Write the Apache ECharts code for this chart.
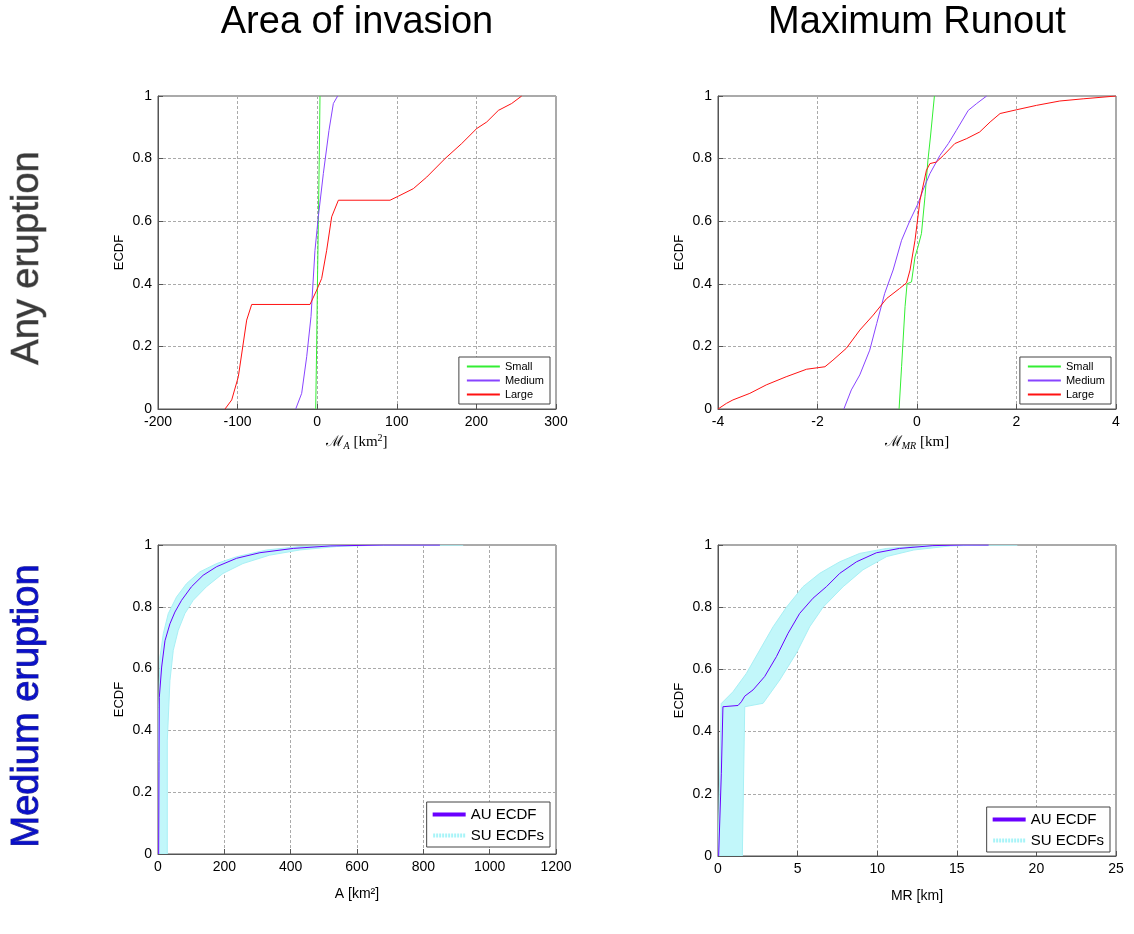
<!DOCTYPE html>
<html><head><meta charset="utf-8">
<script src="https://cdn.jsdelivr.net/npm/echarts@6/dist/echarts.min.js"></script>
<style>html,body{margin:0;padding:0;background:#fff}#c{width:1134px;height:934px}</style>
</head><body><div id="c"></div>
<script>
// ---------- DATA ----------
const colTitles = ['Area of invasion', 'Maximum Runout'];
const rowTitles = ['Any eruption', 'Medium eruption'];
const yTicks = [0, 0.2, 0.4, 0.6, 0.8, 1];
const xTicksArea = [-200, -100, 0, 100, 200, 300];
const xTicksRun = [-4, -2, 0, 2, 4];
const xTicksA = [0, 200, 400, 600, 800, 1000, 1200];
const xTicksMR = [0, 5, 10, 15, 20, 25];

// Top-left: M_A [km^2] ECDFs
const areaSmall = [[-1.9,0],[-0.7,0.2],[0.2,0.38],[1.4,0.59],[2.6,0.805],[3.5,1]];
const areaMedium = [[-27,0],[-19.5,0.05],[-13.2,0.167],[-7.8,0.295],[-2.8,0.507],[1.4,0.614],[7.7,0.752],[14.8,0.89],[20.3,0.976],[25.7,1]];
const areaLarge = [[-115.8,0],[-107.4,0.029],[-99.1,0.103],[-88.6,0.284],[-82.3,0.334],[-9,0.334],[-0.6,0.38],[5.6,0.417],[11.9,0.507],[18.2,0.614],[26.6,0.667],[91.5,0.667],[102,0.68],[120.8,0.704],[137.6,0.741],[160.6,0.8],[181.5,0.848],[200.4,0.896],[213,0.917],[227.6,0.954],[244.3,0.976],[256.9,1]];

// Top-right: M_MR [km] ECDFs
const runSmall = [[-0.36,0],[-0.31,0.135],[-0.24,0.327],[-0.2,0.4],[-0.11,0.406],[-0.04,0.486],[0.02,0.518],[0.09,0.561],[0.16,0.678],[0.22,0.795],[0.27,0.869],[0.35,1]];
const runMedium = [[-1.47,0],[-1.32,0.061],[-1.15,0.109],[-0.95,0.188],[-0.81,0.273],[-0.65,0.369],[-0.48,0.444],[-0.31,0.539],[-0.14,0.603],[0.02,0.656],[0.12,0.699],[0.26,0.752],[0.46,0.81],[0.63,0.848],[0.79,0.89],[1.03,0.954],[1.2,0.976],[1.4,1]];
const runLarge = [[-4,0],[-3.83,0.018],[-3.7,0.029],[-3.36,0.05],[-3.03,0.077],[-2.63,0.103],[-2.22,0.127],[-1.85,0.135],[-1.69,0.156],[-1.42,0.194],[-1.15,0.252],[-0.88,0.3],[-0.61,0.353],[-0.35,0.385],[-0.21,0.403],[-0.14,0.444],[-0.04,0.539],[0.06,0.667],[0.19,0.763],[0.26,0.784],[0.39,0.789],[0.53,0.81],[0.76,0.848],[1,0.864],[1.26,0.885],[1.47,0.917],[1.67,0.944],[2,0.956],[2.4,0.97],[2.87,0.984],[3.34,0.991],[4,1]];

// Bottom-left: A [km^2], medium eruption
const aAU = [[2,0],[3,0.3],[4,0.507],[11,0.605],[21,0.69],[36,0.745],[51,0.783],[71,0.821],[101,0.865],[136,0.902],[177,0.93],[237,0.957],[307,0.975],[408,0.989],[519,0.997],[680,1],[850,1]];
const aSUupper = [[0,0],[2,0.475],[6,0.637],[16,0.713],[31,0.778],[56,0.832],[86,0.875],[126,0.913],[177,0.94],[237,0.962],[328,0.984],[428,0.995],[579,1],[920,1]];
const aSUlower = [[28,0],[28,0.366],[36,0.561],[46,0.659],[61,0.724],[81,0.778],[106,0.821],[146,0.865],[196,0.908],[256,0.94],[336,0.967],[428,0.984],[538,0.995],[679,1],[920,1]];

// Bottom-right: MR [km], medium eruption
const mrAU = [[0.04,0],[0.21,0.266],[0.31,0.48],[0.38,0.482],[1.26,0.484],[1.47,0.496],[1.68,0.514],[2.2,0.534],[2.93,0.577],[3.67,0.641],[4.4,0.716],[5.13,0.78],[5.97,0.829],[6.81,0.866],[7.65,0.909],[8.7,0.946],[9.95,0.975],[11.4,0.989],[13.5,0.998],[15.4,1],[17,1]];
const mrSUupper = [[0,0],[0.2,0.49],[0.94,0.528],[1.78,0.587],[2.62,0.662],[3.46,0.737],[4.3,0.8],[5.34,0.866],[6.39,0.909],[7.65,0.946],[8.9,0.973],[10.6,0.989],[13.5,1],[18.8,1]];
const mrSUlower = [[1.53,0],[1.68,0.48],[2.83,0.491],[3.88,0.566],[4.92,0.652],[5.76,0.737],[6.6,0.8],[7.86,0.866],[9.1,0.92],[10.6,0.963],[12.3,0.984],[14.6,0.997],[16.9,1],[18.8,1]];

// ---------- CHART ----------
const FONT = 'Liberation Sans';
const C_SMALL = '#33ee33', C_MED = '#8844ff', C_LARGE = '#ff1111', C_AU = '#6a00ff', C_SU = '#c2f7fa';

const grids = [
  {left:158, top:96, width:398, height:313},
  {left:718, top:96, width:398, height:313},
  {left:158, top:545, width:398, height:309},
  {left:718, top:545, width:398, height:311}
].map(g => Object.assign(g, {show:true, borderColor:'#555', borderWidth:1, backgroundColor:'#fff'}));

const mathRich = {
  m:{fontFamily:'DejaVu Serif', fontSize:15, color:'#000'},
  s:{fontFamily:'Liberation Serif', fontStyle:'italic', fontSize:10, color:'#000', padding:[8,0,0,0]},
  t:{fontFamily:'Liberation Serif', fontSize:15, color:'#000'},
  sup:{fontFamily:'Liberation Serif', fontSize:10, color:'#000', padding:[0,0,8,0]}
};

function xAx(i, ticks, name, gap) {
  return {
    gridIndex:i, type:'value', min:ticks[0], max:ticks[ticks.length-1], interval:ticks[1]-ticks[0],
    name:name, nameLocation:'middle', nameGap:gap,
    nameTextStyle:{color:'#000', fontFamily:FONT, fontSize:14, rich:mathRich},
    axisLine:{show:true, onZero:false, lineStyle:{color:'#555'}},
    axisTick:{show:true, inside:true, length:5, lineStyle:{color:'#555'}},
    axisLabel:{color:'#000', fontFamily:FONT, fontSize:14, margin:6, formatter: v => String(v)},
    splitLine:{show:true, lineStyle:{color:'#aaa', type:[3,2], width:1}}
  };
}
function yAx(i) {
  return {
    gridIndex:i, type:'value', min:0, max:1, interval:0.2,
    name:'ECDF', nameLocation:'middle', nameGap:32,
    nameTextStyle:{color:'#000', fontFamily:FONT, fontSize:13},
    axisLine:{show:true, onZero:false, lineStyle:{color:'#555'}},
    axisTick:{show:true, inside:true, length:5, lineStyle:{color:'#555'}},
    axisLabel:{color:'#000', fontFamily:FONT, fontSize:14, margin:6,
      formatter: v => String(Math.round(v*10)/10)},
    splitLine:{show:true, lineStyle:{color:'#aaa', type:[3,2], width:1}}
  };
}

function lineS(name, data, xi, color, width) {
  return {type:'line', name:name, data:data, xAxisIndex:xi, yAxisIndex:xi, showSymbol:false, symbol:'none',
    lineStyle:{color:color, width:width||1}, itemStyle:{color:color}, animation:false, z:3};
}
function bandS(name, upper, lower, xi) {
  return {type:'custom', name:name, xAxisIndex:xi, yAxisIndex:xi, data:[0], animation:false, z:2,
    itemStyle:{color:C_SU},
    clip:true,
    renderItem: function(params, api) {
      const pts = upper.map(p => api.coord(p)).concat(lower.slice().reverse().map(p => api.coord(p)));
      return {type:'polygon', shape:{points:pts}, style:{fill:C_SU, stroke:'#a8f0f5', lineWidth:1}};
    }};
}

function dottedIcon() {
  let p = 'path://';
  for (let i = 0; i < 11; i++) p += 'M' + (i*3) + ',0h2v4h-2z';
  return p;
}
function smallLegend(right, bottom) {
  return {orient:'vertical', right:right, bottom:bottom, padding:[4,6,4,8], itemGap:3, itemWidth:33, itemHeight:2,
    backgroundColor:'#fff', borderColor:'#444', borderWidth:1, borderRadius:0,
    textStyle:{fontFamily:FONT, fontSize:11, color:'#000'}, selectedMode:false,
    data:[{name:'Small', icon:'rect'},{name:'Medium', icon:'rect'},{name:'Large', icon:'rect'}]};
}
function bigLegend(right, bottom) {
  return {orient:'vertical', right:right, bottom:bottom, padding:[5,6,4,6], itemGap:6, itemWidth:33, itemHeight:4,
    backgroundColor:'#fff', borderColor:'#444', borderWidth:1, borderRadius:0,
    textStyle:{fontFamily:FONT, fontSize:15, color:'#000'}, selectedMode:false,
    data:[{name:'AU ECDF', icon:'rect'},{name:'SU ECDFs', icon:dottedIcon(), itemStyle:{color:'#a8f4f8'}}]};
}

const option = {
  animation:false,
  backgroundColor:'#fff',
  grid: grids,
  xAxis: [
    xAx(0, xTicksArea, '{m|ℳ}{s|A} {t|[km}{sup|2}{t|]}', 24),
    xAx(1, xTicksRun, '{m|ℳ}{s|MR} {t|[km]}', 24),
    xAx(2, xTicksA, 'A [km²]', 33),
    xAx(3, xTicksMR, 'MR [km]', 33)
  ],
  yAxis: [yAx(0), yAx(1), yAx(2), yAx(3)],
  legend: [smallLegend(584, 530), smallLegend(23, 530), bigLegend(584, 87), bigLegend(24, 82)],
  series: [
    lineS('Small', areaSmall, 0, C_SMALL), lineS('Medium', areaMedium, 0, C_MED), lineS('Large', areaLarge, 0, C_LARGE),
    lineS('Small', runSmall, 1, C_SMALL), lineS('Medium', runMedium, 1, C_MED), lineS('Large', runLarge, 1, C_LARGE),
    bandS('SU ECDFs', aSUupper, aSUlower, 2), lineS('AU ECDF', aAU, 2, C_AU, 1),
    bandS('SU ECDFs', mrSUupper, mrSUlower, 3), lineS('AU ECDF', mrAU, 3, C_AU, 1)
  ],
  graphic: [
    {type:'text', x:357, y:23, style:{text:colTitles[0], font:'38px "Liberation Sans"', fill:'#000', align:'center', verticalAlign:'middle'}},
    {type:'text', x:917, y:23, style:{text:colTitles[1], font:'38px "Liberation Sans"', fill:'#000', align:'center', verticalAlign:'middle'}},
    {type:'text', x:28, y:258, rotation:Math.PI/2, style:{text:rowTitles[0], font:'38px "Liberation Sans"', fill:'#3a3a3a', align:'center', verticalAlign:'middle', stroke:'#9a9a9a', lineWidth:1}},
    {type:'text', x:28, y:706, rotation:Math.PI/2, style:{text:rowTitles[1], font:'38px "Liberation Sans"', fill:'#0a10c8', align:'center', verticalAlign:'middle', stroke:'#3a3a8a', lineWidth:1}}
  ]
};

const chart = echarts.init(document.getElementById('c'), null, {renderer:'canvas'});
chart.setOption(option);
</script></body></html>
